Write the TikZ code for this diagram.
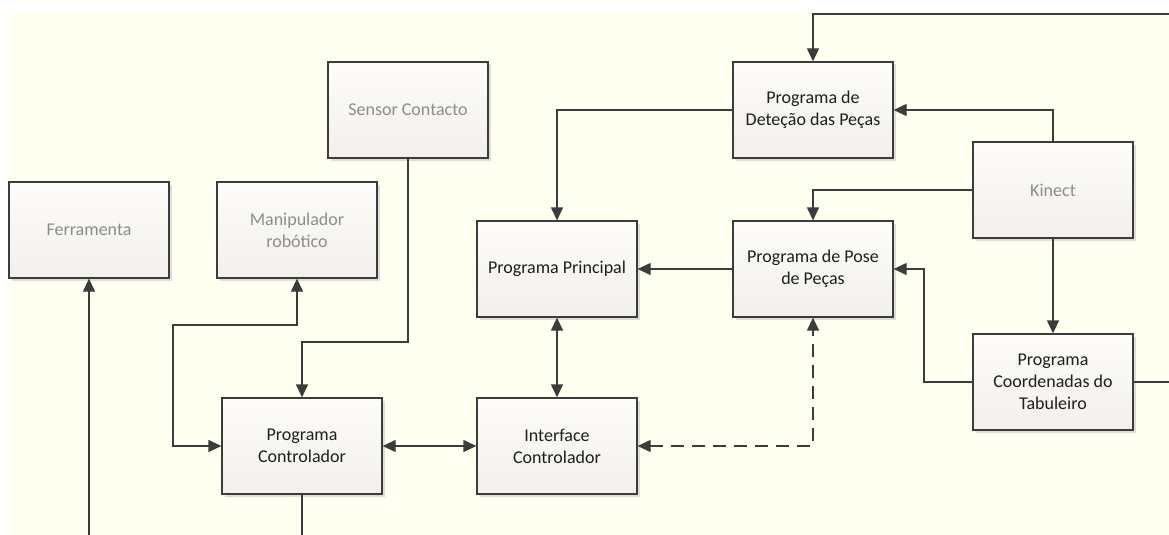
\documentclass[tikz,border=0pt]{standalone}
\usepackage{fontspec}
\setmainfont{Carlito}
\usetikzlibrary{arrows.meta,shadows}
\definecolor{bg}{RGB}{255,255,242}
\definecolor{edge}{RGB}{60,60,60}
\definecolor{boxtop}{RGB}{253,252,250}
\definecolor{boxbot}{RGB}{243,240,236}
\definecolor{txt}{RGB}{30,30,30}
\definecolor{exttxt}{RGB}{140,140,140}
\begin{document}
\begin{tikzpicture}[x=1pt,y=-1pt,
  box/.style={draw=edge, line width=1.3pt, minimum width=160pt, minimum height=96pt,
    top color=boxtop, bottom color=boxbot,
    drop shadow={shadow xshift=2.5pt, shadow yshift=-2.5pt, fill=black!25, opacity=.5},
    align=center, font=\fontsize{18}{22}\selectfont, text=txt, inner sep=0pt},
  ext/.style={box, text=exttxt},
  link/.style={draw=edge, line width=1.3pt},
  tip/.tip={Triangle[length=13pt,width=12pt]},
  arr/.style={link, -tip},
  dbl/.style={link, tip-tip},
  dashline/.style={dash pattern=on 13pt off 8pt}]
\useasboundingbox (0,0) rectangle (1169,535);
\fill[white] (0,0) rectangle (1169,535);
\fill[bg] (8,12) rectangle (1169,535);

\node[ext] (fer) at (89,230) {Ferramenta};
\node[ext] (man) at (297,230) {Manipulador\\robótico};
\node[ext] (sen) at (408,110) {Sensor Contacto};
\node[box] (ctl) at (302,446) {Programa\\Controlador};
\node[box] (itf) at (557,446) {Interface\\Controlador};
\node[box] (pri) at (557,269) {Programa Principal};
\node[box] (pose) at (813,269) {Programa de Pose\\de Peças};
\node[box] (det) at (813,110) {Programa de\\Deteção das Peças};
\node[ext] (kin) at (1053,190) {Kinect};
\node[box] (coo) at (1053,382) {Programa\\Coordenadas do\\Tabuleiro};

\coordinate (tr) at (1169,14);
\coordinate (fb) at (89,535);
\coordinate (cb) at (302,535);
\coordinate (s1) at (408,342);
\coordinate (m1) at (297,325);
\coordinate (m2) at (173,325);
\coordinate (c1) at (924,382);
\coordinate (cr) at (1169,382);

\draw[arr] (tr) -| (det.north);
\draw[arr] (kin.north) |- (det.east);
\draw[arr] (det.west) -| (pri.north);
\draw[arr] (kin.west) -| (pose.north);
\draw[arr] (kin.south) -- (coo.north);
\draw[arr] (coo.west) -- (c1) |- (pose.east);
\draw[link] (coo.east) -- (cr);
\draw[arr] (pose.west) -- (pri.east);
\draw[dbl] (pri.south) -- (itf.north);
\draw[dbl] (ctl.east) -- (itf.west);
\draw[dbl, dashline] (itf.east) -| (pose.south);
\draw[arr] (sen.south) -- (s1) -| (ctl.north);
\draw[dbl] (man.south) -- (m1) -- (m2) |- (ctl.west);
\draw[arr] (fb) -- (fer.south);
\draw[link] (ctl.south) -- (cb);
\end{tikzpicture}
\end{document}
